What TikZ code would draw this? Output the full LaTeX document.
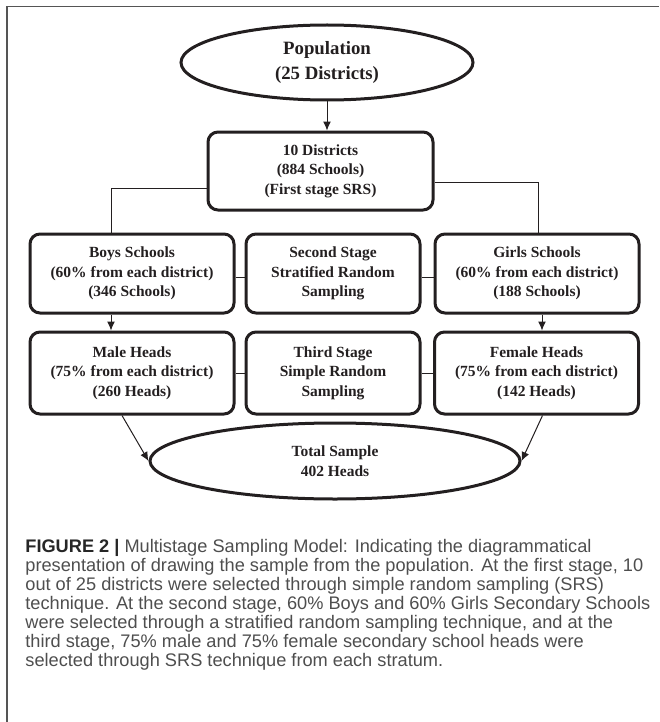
\documentclass[tikz,border=0pt]{standalone}
\usepackage{fontspec}
\setmainfont{Liberation Serif}
\setsansfont{Liberation Sans}
\usetikzlibrary{shapes.geometric,arrows.meta}

\definecolor{boxline}{RGB}{35,31,32}
\definecolor{capgray}{RGB}{78,78,78}
\definecolor{framegray}{RGB}{85,85,85}

\newcommand{\boxfont}{\fontsize{7.75}{9.75}\selectfont\bfseries}
\newcommand{\ovalfont}{\fontsize{9.4}{12.5}\selectfont\bfseries}
\newcommand{\capfont}{\sffamily\fontsize{9.1}{9.5}\selectfont}

\tikzset{
	block/.style={draw=boxline, line width=1.5pt, rounded corners=5pt, align=center, inner sep=0pt, text=boxline, font=\boxfont},
	oval/.style={ellipse, draw=boxline, line width=1.5pt, align=center, inner sep=0pt, text=boxline},
	link/.style={draw=boxline, line width=0.5pt},
	flow/.style={link, -{Latex[length=4.5pt,width=4pt]}},
}

\begin{document}
\begin{tikzpicture}[x=0.5pt, y=-0.5pt]
	\useasboundingbox (0,0) rectangle (659,722);
	
	% Frame of the figure
	\draw[framegray, line width=0.8pt] (7,722) -- (7,6.5) -- (659,6.5);
	
	% Population and first stage
	\node[oval, minimum width=146pt, minimum height=37.5pt, font=\ovalfont] (pop) at (327,62.5) {Population\\(25 Districts)};
	\node[block, minimum width=112.5pt, minimum height=39pt] (dist) at (320.5,171) {10 Districts\\(884 Schools)\\(First stage SRS)};
	
	% Second stage
	\node[block, minimum width=102pt, minimum height=39.5pt] (boys) at (132,273.5) {Boys Schools\\(60\% from each district)\\(346 Schools)};
	\node[block, minimum width=87pt, minimum height=39.5pt] (second) at (333,273.5) {Second Stage\\Stratified Random\\Sampling};
	\node[block, minimum width=102pt, minimum height=39.5pt] (girls) at (537,273.5) {Girls Schools\\(60\% from each district)\\(188 Schools)};
	
	% Third stage
	\node[block, minimum width=102pt, minimum height=41pt] (male) at (132,373) {Male Heads\\(75\% from each district)\\(260 Heads)};
	\node[block, minimum width=87pt, minimum height=41pt] (third) at (333,373) {Third Stage\\Simple Random\\Sampling};
	\node[block, minimum width=102pt, minimum height=41pt] (female) at (536.5,373) {Female Heads\\(75\% from each district)\\(142 Heads)};
	
	\node[oval, minimum width=185pt, minimum height=38pt, font=\boxfont] (total) at (335,461) {Total Sample\\402 Heads};
	
	% Connectors
	\draw[flow] (pop.south) -- (pop.south |- dist.north);
	\draw[link] ([yshift=-8.5pt]dist.west) -| ([xshift=-10.5pt]boys.north);
	\draw[link] ([yshift=-5.5pt]dist.east) -| ([xshift=0.5pt]girls.north);
	\draw[link] ([yshift=-2pt]boys.east) -- ([yshift=-2pt]second.west);
	\draw[link] ([yshift=-2pt]second.east) -- ([yshift=-2pt]girls.west);
	\draw[link] (male.east) -- (third.west);
	\draw[link] (third.east) -- (female.west);
	\draw[flow] ([xshift=-10.5pt]boys.south) -- ([xshift=-10.5pt]male.north);
	\draw[flow] ([xshift=2.5pt]girls.south) -- ([xshift=2.75pt]female.north);
	\draw[flow] ([xshift=-5pt]male.south) -- (total.west);
	\draw[flow] ([xshift=3pt]female.south) -- (total.east);
	
	% Caption
	\node[anchor=north west, inner sep=0pt, align=left, font=\capfont, text=capgray] (caption) at (25,539) {\textcolor{black!85}{\textbf{FIGURE 2 |}} Multistage Sampling Model: Indicating the diagrammatical\\
		presentation of drawing the sample from the population. At the first stage, 10\\
		out of 25 districts were selected through simple random sampling (SRS)\\
		technique. At the second stage, 60\% Boys and 60\% Girls Secondary Schools\\
		were selected through a stratified random sampling technique, and at the\\
		third stage, 75\% male and 75\% female secondary school heads were\\
		selected through SRS technique from each stratum.};
\end{tikzpicture}
\end{document}
